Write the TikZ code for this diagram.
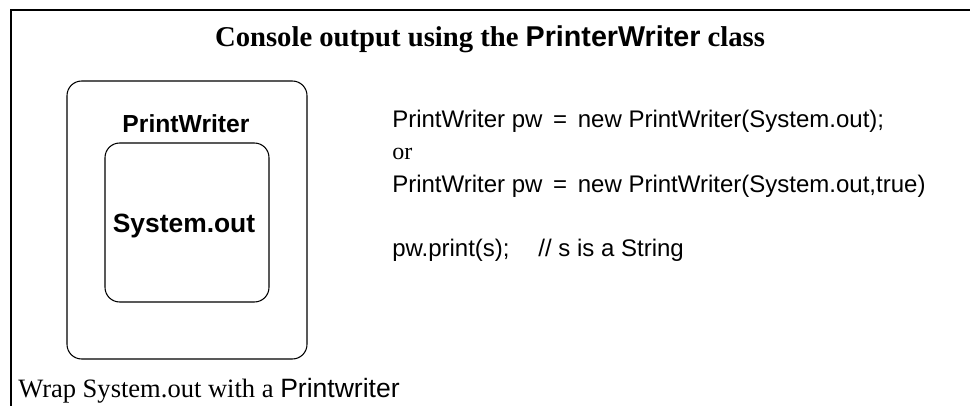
\documentclass[tikz,border=0pt]{standalone}
\usepackage{fontspec}
\setmainfont{Liberation Serif}
\setsansfont{Liberation Sans}
\usetikzlibrary{positioning}

\begin{document}
\begin{tikzpicture}[x=0.75pt, y=-0.75pt, node distance=24pt,
        box/.style={draw, rounded corners=11pt, line width=0.8pt, inner sep=0pt},
        lbl/.style={font=\sffamily\bfseries\fontsize{18.5}{22}\selectfont, anchor=base, inner sep=0pt},
        code/.style={font=\sffamily\fontsize{18}{22}\selectfont, anchor=base west, inner sep=0pt}]
        \useasboundingbox (0,0) rectangle (970,406);
        \draw[line width=1.5pt] (970,10) -- (11,10) -- (11,406);

        \node[font=\bfseries\fontsize{21.5}{26}\selectfont, anchor=base, inner sep=0pt] (title) at (490,47)
             {Console output using the \textsf{PrinterWriter} class};

        \node[box, minimum width=180pt, minimum height=208.5pt] (outer) at (187,220) {};
        \node[box, minimum width=123pt, minimum height=119.25pt] (inner) at (187,222.5) {};
        \node[lbl] (pwlabel) at (186,133) {PrintWriter};
        \node[lbl, font=\sffamily\bfseries\fontsize{19.8}{23}\selectfont] (syslabel) at (184,232) {System.out};

        \node[code] (line1) at (392,128) {PrintWriter pw \,=\, new PrintWriter(System.out);};
        \node[code, font=\rmfamily\fontsize{18}{22}\selectfont, below=of line1.base west, anchor=base west] (line2) {or};
        \node[code, below=of line2.base west, anchor=base west] (line3) {PrintWriter pw \,=\, new PrintWriter(System.out,true)};
        \node[code, below=48pt of line3.base west, anchor=base west] (line4) {pw.print(s);\hspace{1.2em}// s is a String};

        \node[font=\fontsize{19.9}{23}\selectfont, anchor=base west, inner sep=0pt] (caption) at (18,397)
             {Wrap System.out with a \textsf{Printwriter}};
    \end{tikzpicture}
\end{document}
